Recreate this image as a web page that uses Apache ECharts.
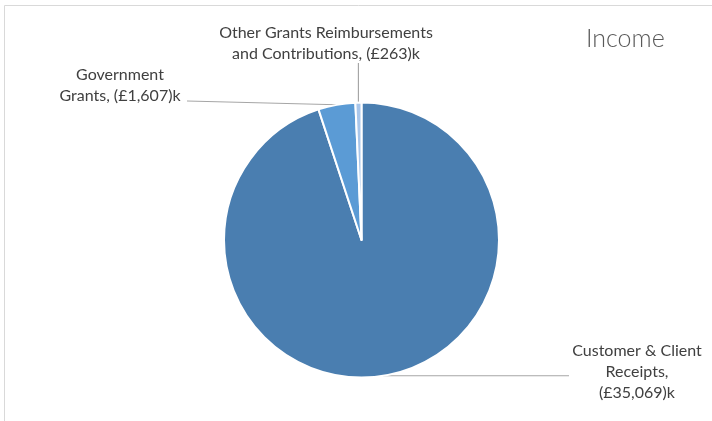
<!DOCTYPE html>
<html>
<head>
<meta charset="utf-8">
<script src="https://cdn.jsdelivr.net/npm/echarts@6/dist/echarts.min.js"></script>
<style>
  html, body { margin: 0; padding: 0; background: #ffffff; }
  #chart { width: 712px; height: 421px; }
</style>
</head>
<body>
<div id="chart"></div>
<script>
// Income breakdown, £k
const categories = [
  'Customer & Client\nReceipts',
  'Government\nGrants',
  'Other Grants Reimbursements\nand Contributions'
];
const values = [35069, 1607, 263];
const sliceColors = ['#4a7eb0', '#5b9bd5', '#a9c6ea'];

// Where each label sits (centre point) and where its leader line meets it
const labelSpots = [
  { x: 637, y: 371.5, lineEnd: (a) => [569, a[1]] },
  { x: 120, y: 85, lineEnd: (a) => [187, 101] },
  { x: 326, y: 43.5, lineEnd: (a) => [a[0], 63] }
];

const chart = echarts.init(document.getElementById('chart'), null, { renderer: 'canvas' });

const fmt = (v) => v.toLocaleString('en-GB');

chart.setOption({
  animation: false,
  title: {
    text: 'Income',
    left: 581,
    top: 19,
    textStyle: {
      fontFamily: 'Lato',
      fontSize: 25,
      fontWeight: 300,
      color: '#595959',
      lineHeight: 30
    }
  },
  graphic: [{
    type: 'rect',
    silent: true,
    shape: { x: 4.5, y: 5.5, width: 800, height: 500 },
    style: { fill: null, stroke: '#d9d9d9', lineWidth: 1 }
  }],
  series: [{
    type: 'pie',
    center: [361.5, 240],
    radius: 137.5,
    startAngle: 90,
    clockwise: true,
    avoidLabelOverlap: false,
    emphasis: { disabled: true },
    data: categories.map((name, i) => ({
      name: name,
      value: values[i],
      itemStyle: { color: sliceColors[i] }
    })),
    itemStyle: { borderColor: '#ffffff', borderWidth: 2 },
    label: {
      show: true,
      position: 'outside',
      fontFamily: 'Lato',
      fontSize: 16,
      lineHeight: 21,
      color: '#404040',
      align: 'center',
      formatter: (p) => p.name + ',' + (p.dataIndex === 0 ? '\n' : ' ') + '(£' + fmt(p.value) + ')k'
    },
    labelLine: {
      show: true,
      length: 10,
      length2: 10,
      lineStyle: { color: '#a6a6a6', width: 1.2 }
    },
    labelLayout: (params) => {
      const spot = labelSpots[params.dataIndex];
      const anchor = params.labelLinePoints[0];
      return {
        x: spot.x,
        y: spot.y,
        align: 'center',
        verticalAlign: 'middle',
        labelLinePoints: [anchor, spot.lineEnd(anchor)]
      };
    }
  }]
});
</script>
</body>
</html>
